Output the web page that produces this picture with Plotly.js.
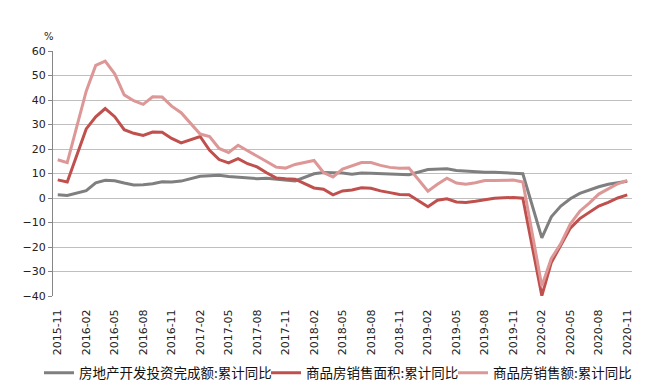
<!DOCTYPE html>
<html>
<head>
<meta charset="utf-8">
<script src="https://cdn.plot.ly/plotly-3.0.1.min.js"></script>
<style>html,body{margin:0;padding:0;background:#fff;}#chart{width:646px;height:390px;}</style>
</head>
<body>
<div id="chart"></div>
<script>
// Month categories (January has no published value: Jan-Feb reported together)
const months = [
  "2015-11","2015-12",
  "2016-01","2016-02","2016-03","2016-04","2016-05","2016-06","2016-07","2016-08","2016-09","2016-10","2016-11","2016-12",
  "2017-01","2017-02","2017-03","2017-04","2017-05","2017-06","2017-07","2017-08","2017-09","2017-10","2017-11","2017-12",
  "2018-01","2018-02","2018-03","2018-04","2018-05","2018-06","2018-07","2018-08","2018-09","2018-10","2018-11","2018-12",
  "2019-01","2019-02","2019-03","2019-04","2019-05","2019-06","2019-07","2019-08","2019-09","2019-10","2019-11","2019-12",
  "2020-01","2020-02","2020-03","2020-04","2020-05","2020-06","2020-07","2020-08","2020-09","2020-10","2020-11"
];
const tickLabels = ["2015-11","2016-02","2016-05","2016-08","2016-11","2017-02","2017-05","2017-08","2017-11",
  "2018-02","2018-05","2018-08","2018-11","2019-02","2019-05","2019-08","2019-11","2020-02","2020-05","2020-08","2020-11"];

// 房地产开发投资完成额:累计同比
const invest = [1.3,1.0,
  null,3.0,6.2,7.2,7.0,6.1,5.3,5.4,5.8,6.6,6.5,6.9,
  null,8.9,9.1,9.3,8.8,8.5,7.9,7.9,8.1,7.8,7.5,7.0,
  null,9.9,10.4,10.3,10.2,9.7,10.2,10.1,9.9,9.7,9.7,9.5,
  null,11.6,11.8,11.9,11.2,10.9,10.6,10.5,10.5,10.3,10.2,9.9,
  null,-16.3,-7.7,-3.3,-0.3,1.9,3.4,4.6,5.6,6.3,6.8];
// 商品房销售面积:累计同比
const area = [7.4,6.5,
  null,28.2,33.1,36.5,33.2,27.9,26.4,25.5,26.9,26.8,24.3,22.5,
  null,25.1,19.5,15.7,14.3,16.1,14.0,12.7,10.3,8.2,7.9,7.7,
  null,4.1,3.6,1.3,2.9,3.3,4.2,4.0,2.9,2.2,1.4,1.3,
  null,-3.6,-0.9,-0.3,-1.6,-1.8,-1.3,-0.6,-0.1,0.1,0.2,-0.1,
  null,-39.9,-26.3,-19.3,-12.3,-8.4,-5.8,-3.3,-1.8,0.0,1.3];
// 商品房销售额:累计同比
const sales = [15.6,14.4,
  null,43.6,54.1,55.9,50.7,42.1,39.7,38.2,41.3,41.2,37.5,34.8,
  null,26.1,25.1,20.2,18.6,21.5,19.3,17.2,14.9,12.6,12.2,13.7,
  null,15.3,10.4,8.6,11.8,13.2,14.5,14.5,13.3,12.5,12.1,12.2,
  null,2.8,5.6,8.1,6.1,5.6,6.2,7.1,7.1,7.3,7.3,6.5,
  null,-35.9,-24.7,-18.6,-10.6,-5.4,-2.1,1.6,3.7,5.8,7.2];

const seriesNames = ["房地产开发投资完成额:累计同比","商品房销售面积:累计同比","商品房销售额:累计同比"];
const seriesColors = ["#7f7f7f","#c0504d","#dc9796"];
const seriesData = [invest, area, sales];
const legendIds = ["legend","legend2","legend3"];

const traces = seriesData.map((d, i) => ({
  type: "scatter", mode: "lines", x: months, y: d, name: seriesNames[i],
  legend: legendIds[i],
  connectgaps: true, line: {color: seriesColors[i], width: 3}
}));

// boundary tick positions at the zero line (half a category left of each label)
const boundaryTicks = tickLabels.map(t => months.indexOf(t) - 0.5);

const W = 646, H = 390;
const legendFont = {family: "Noto Sans CJK SC, sans-serif", size: 13.5, color: "#111"};
function legendAt(leftPx) {
  return {
    orientation: "h", xref: "container", yref: "container",
    x: leftPx / W, xanchor: "left", y: 1 - 373 / H, yanchor: "middle",
    font: legendFont, itemwidth: 30, bgcolor: "rgba(0,0,0,0)", borderwidth: 0
  };
}

const layout = {
  width: W, height: H,
  margin: {l: 53, r: 14, t: 51, b: 94},
  paper_bgcolor: "#fff", plot_bgcolor: "#fff",
  showlegend: true,
  font: {family: "DejaVu Sans, Verdana, sans-serif", size: 11, color: "#222"},
  xaxis: {
    type: "category", categoryorder: "array", categoryarray: months,
    range: [-0.5, months.length - 0.5],
    tickmode: "array", tickvals: tickLabels, ticktext: tickLabels,
    tickangle: -90, ticks: "outside", ticklen: 8, tickcolor: "rgba(0,0,0,0)",
    showgrid: false, showline: false, zeroline: false, automargin: false,
    tickfont: {family: "DejaVu Sans, Verdana, sans-serif", size: 11, color: "#222"}
  },
  xaxis2: {
    overlaying: "x", anchor: "free", position: 0.4, type: "linear",
    range: [-0.5, months.length - 0.5],
    tickmode: "array", tickvals: boundaryTicks,
    ticks: "outside", ticklen: 4, tickcolor: "#868686", tickwidth: 1,
    showline: true, linecolor: "#868686", linewidth: 1,
    showticklabels: false, showgrid: false, zeroline: false
  },
  yaxis: {
    range: [-40, 60], dtick: 10, tick0: 0,
    ticks: "outside", ticklen: 4, tickcolor: "#868686",
    showline: true, linecolor: "#868686", linewidth: 1,
    showgrid: true, gridcolor: "#bfbfbf", gridwidth: 1,
    zeroline: false, automargin: false,
    tickfont: {family: "DejaVu Sans, Verdana, sans-serif", size: 11, color: "#222"}
  },
  legend: legendAt(39),
  legend2: legendAt(266),
  legend3: legendAt(453),
  annotations: [{
    text: "%", xref: "paper", yref: "paper", x: -0.007, y: 1.06,
    xanchor: "center", yanchor: "middle", showarrow: false,
    font: {family: "DejaVu Sans, Verdana, sans-serif", size: 10, color: "#222"}
  }]
};

Plotly.newPlot("chart", traces, layout, {staticPlot: true, displayModeBar: false});
</script>
</body>
</html>
